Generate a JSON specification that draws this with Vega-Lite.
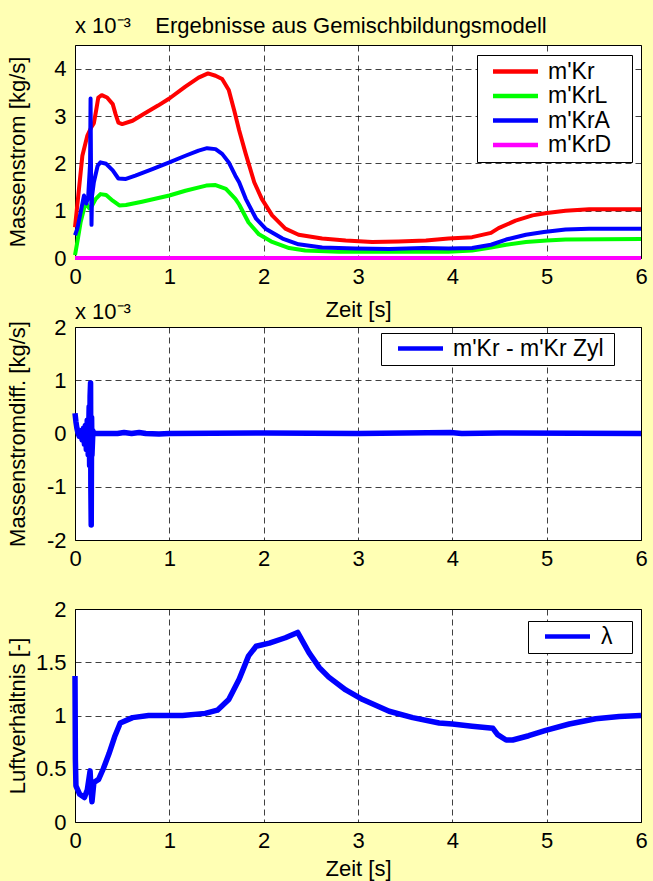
{
  "$schema": "https://vega.github.io/schema/vega-lite/v6.json",
  "background": "#FFFFB4",
  "padding": {"left": 5, "top": 14, "right": 20, "bottom": 10},
  "spacing": 69,
  "bounds": "flush",
  "config": {
    "font": "Liberation Sans",
    "view": {"fill": "white", "stroke": "black", "strokeWidth": 1},
    "axis": {
      "grid": true, "gridColor": "black", "gridDash": [6, 4], "gridOpacity": 0.75, "gridWidth": 1,
      "domain": false, "ticks": false, "tickSize": 0,
      "labelFont": "Liberation Sans", "labelFontSize": 22, "labelColor": "black",
      "labelFlush": false, "labelOverlap": false,
      "titleFont": "Liberation Sans", "titleFontSize": 22, "titleFontWeight": "normal", "titleColor": "black",
      "labelExpr": "'' + datum.value"
    },
    "axisX": {"labelBaseline": "alphabetic", "labelPadding": 25, "titleBaseline": "alphabetic", "titleY": 58},
    "axisY": {"labelPadding": 9, "titleBaseline": "alphabetic", "titleX": -51},
    "legend": {
      "fillColor": "white", "strokeColor": "black", "strokeWidth": 1,
      "labelFont": "Liberation Sans", "labelFontSize": 23, "labelColor": "black",
      "symbolType": "M-5,0H5", "symbolSize": 81, "symbolStrokeWidth": 4.5,
      "titleOrient": "right", "titleOpacity": 0, "titlePadding": 0, "titleFont": "Liberation Sans"
    },
    "title": {"font": "Liberation Sans", "fontSize": 22, "fontWeight": "normal", "color": "black", "anchor": "start", "frame": "group", "baseline": "alphabetic"}
  },
  "resolve": {"scale": {"color": "independent"}, "legend": {"color": "independent"}},
  "datasets": {
    "strom": [
      {"t": 0, "v": 0.65, "s": "m'Kr"}, {"t": 0.035, "v": 1.32, "s": "m'Kr"}, {"t": 0.078, "v": 2.16, "s": "m'Kr"},
      {"t": 0.13, "v": 2.58, "s": "m'Kr"}, {"t": 0.17, "v": 2.75, "s": "m'Kr"}, {"t": 0.2, "v": 2.85, "s": "m'Kr"},
      {"t": 0.226, "v": 3.14, "s": "m'Kr"}, {"t": 0.247, "v": 3.39, "s": "m'Kr"}, {"t": 0.283, "v": 3.44, "s": "m'Kr"},
      {"t": 0.34, "v": 3.39, "s": "m'Kr"}, {"t": 0.4, "v": 3.25, "s": "m'Kr"}, {"t": 0.43, "v": 3.04, "s": "m'Kr"},
      {"t": 0.46, "v": 2.86, "s": "m'Kr"}, {"t": 0.5, "v": 2.83, "s": "m'Kr"}, {"t": 0.61, "v": 2.9, "s": "m'Kr"},
      {"t": 0.75, "v": 3.07, "s": "m'Kr"}, {"t": 0.88, "v": 3.22, "s": "m'Kr"}, {"t": 1.0, "v": 3.37, "s": "m'Kr"},
      {"t": 1.17, "v": 3.62, "s": "m'Kr"}, {"t": 1.31, "v": 3.81, "s": "m'Kr"}, {"t": 1.41, "v": 3.9, "s": "m'Kr"},
      {"t": 1.49, "v": 3.85, "s": "m'Kr"}, {"t": 1.56, "v": 3.78, "s": "m'Kr"}, {"t": 1.63, "v": 3.55, "s": "m'Kr"},
      {"t": 1.69, "v": 3.1, "s": "m'Kr"}, {"t": 1.74, "v": 2.7, "s": "m'Kr"}, {"t": 1.81, "v": 2.2, "s": "m'Kr"},
      {"t": 1.9, "v": 1.6, "s": "m'Kr"}, {"t": 1.98, "v": 1.25, "s": "m'Kr"}, {"t": 2.09, "v": 0.9, "s": "m'Kr"},
      {"t": 2.23, "v": 0.62, "s": "m'Kr"}, {"t": 2.37, "v": 0.49, "s": "m'Kr"}, {"t": 2.62, "v": 0.41, "s": "m'Kr"},
      {"t": 2.87, "v": 0.37, "s": "m'Kr"}, {"t": 3.15, "v": 0.34, "s": "m'Kr"}, {"t": 3.43, "v": 0.35, "s": "m'Kr"},
      {"t": 3.72, "v": 0.37, "s": "m'Kr"}, {"t": 3.96, "v": 0.41, "s": "m'Kr"}, {"t": 4.21, "v": 0.44, "s": "m'Kr"},
      {"t": 4.41, "v": 0.53, "s": "m'Kr"}, {"t": 4.49, "v": 0.63, "s": "m'Kr"}, {"t": 4.67, "v": 0.79, "s": "m'Kr"},
      {"t": 4.85, "v": 0.9, "s": "m'Kr"}, {"t": 5.0, "v": 0.95, "s": "m'Kr"}, {"t": 5.2, "v": 1.0, "s": "m'Kr"},
      {"t": 5.45, "v": 1.03, "s": "m'Kr"}, {"t": 6.0, "v": 1.03, "s": "m'Kr"},

      {"t": 0, "v": 0.06, "s": "m'KrL"}, {"t": 0.025, "v": 0.34, "s": "m'KrL"}, {"t": 0.06, "v": 0.76, "s": "m'KrL"},
      {"t": 0.113, "v": 1.18, "s": "m'KrL"}, {"t": 0.15, "v": 1.05, "s": "m'KrL"}, {"t": 0.18, "v": 1.1, "s": "m'KrL"},
      {"t": 0.22, "v": 1.25, "s": "m'KrL"}, {"t": 0.27, "v": 1.35, "s": "m'KrL"}, {"t": 0.33, "v": 1.33, "s": "m'KrL"},
      {"t": 0.4, "v": 1.21, "s": "m'KrL"}, {"t": 0.47, "v": 1.11, "s": "m'KrL"}, {"t": 0.54, "v": 1.12, "s": "m'KrL"},
      {"t": 0.71, "v": 1.19, "s": "m'KrL"}, {"t": 1.0, "v": 1.32, "s": "m'KrL"}, {"t": 1.17, "v": 1.42, "s": "m'KrL"},
      {"t": 1.39, "v": 1.53, "s": "m'KrL"}, {"t": 1.49, "v": 1.54, "s": "m'KrL"}, {"t": 1.6, "v": 1.46, "s": "m'KrL"},
      {"t": 1.7, "v": 1.25, "s": "m'KrL"}, {"t": 1.74, "v": 1.13, "s": "m'KrL"}, {"t": 1.84, "v": 0.75, "s": "m'KrL"},
      {"t": 1.95, "v": 0.5, "s": "m'KrL"}, {"t": 2.09, "v": 0.34, "s": "m'KrL"}, {"t": 2.27, "v": 0.21, "s": "m'KrL"},
      {"t": 2.44, "v": 0.16, "s": "m'KrL"}, {"t": 2.8, "v": 0.13, "s": "m'KrL"}, {"t": 3.5, "v": 0.13, "s": "m'KrL"},
      {"t": 3.96, "v": 0.13, "s": "m'KrL"}, {"t": 4.21, "v": 0.16, "s": "m'KrL"}, {"t": 4.41, "v": 0.22, "s": "m'KrL"},
      {"t": 4.57, "v": 0.28, "s": "m'KrL"}, {"t": 4.78, "v": 0.34, "s": "m'KrL"}, {"t": 5.0, "v": 0.37, "s": "m'KrL"},
      {"t": 5.2, "v": 0.39, "s": "m'KrL"}, {"t": 6.0, "v": 0.4, "s": "m'KrL"},

      {"t": 0, "v": 0.48, "s": "m'KrA"}, {"t": 0.025, "v": 0.62, "s": "m'KrA"}, {"t": 0.06, "v": 0.97, "s": "m'KrA"},
      {"t": 0.095, "v": 1.32, "s": "m'KrA"}, {"t": 0.12, "v": 1.15, "s": "m'KrA"}, {"t": 0.14, "v": 1.3, "s": "m'KrA"},
      {"t": 0.16, "v": 2.0, "s": "m'KrA"}, {"t": 0.165, "v": 3.37, "s": "m'KrA"}, {"t": 0.17, "v": 1.8, "s": "m'KrA"},
      {"t": 0.175, "v": 0.7, "s": "m'KrA"}, {"t": 0.18, "v": 1.3, "s": "m'KrA"}, {"t": 0.2, "v": 1.6, "s": "m'KrA"},
      {"t": 0.24, "v": 1.95, "s": "m'KrA"}, {"t": 0.27, "v": 2.02, "s": "m'KrA"}, {"t": 0.33, "v": 1.99, "s": "m'KrA"},
      {"t": 0.4, "v": 1.85, "s": "m'KrA"}, {"t": 0.46, "v": 1.68, "s": "m'KrA"}, {"t": 0.54, "v": 1.67, "s": "m'KrA"},
      {"t": 0.64, "v": 1.74, "s": "m'KrA"}, {"t": 0.82, "v": 1.88, "s": "m'KrA"}, {"t": 1.0, "v": 2.02, "s": "m'KrA"},
      {"t": 1.17, "v": 2.16, "s": "m'KrA"}, {"t": 1.31, "v": 2.27, "s": "m'KrA"}, {"t": 1.4, "v": 2.32, "s": "m'KrA"},
      {"t": 1.49, "v": 2.3, "s": "m'KrA"}, {"t": 1.56, "v": 2.2, "s": "m'KrA"}, {"t": 1.63, "v": 2.02, "s": "m'KrA"},
      {"t": 1.7, "v": 1.74, "s": "m'KrA"}, {"t": 1.74, "v": 1.6, "s": "m'KrA"}, {"t": 1.81, "v": 1.25, "s": "m'KrA"},
      {"t": 1.92, "v": 0.83, "s": "m'KrA"}, {"t": 2.02, "v": 0.62, "s": "m'KrA"}, {"t": 2.2, "v": 0.41, "s": "m'KrA"},
      {"t": 2.37, "v": 0.29, "s": "m'KrA"}, {"t": 2.62, "v": 0.22, "s": "m'KrA"}, {"t": 2.97, "v": 0.2, "s": "m'KrA"},
      {"t": 3.33, "v": 0.19, "s": "m'KrA"}, {"t": 3.69, "v": 0.21, "s": "m'KrA"}, {"t": 3.96, "v": 0.2, "s": "m'KrA"},
      {"t": 4.21, "v": 0.21, "s": "m'KrA"}, {"t": 4.41, "v": 0.28, "s": "m'KrA"}, {"t": 4.57, "v": 0.39, "s": "m'KrA"},
      {"t": 4.78, "v": 0.49, "s": "m'KrA"}, {"t": 4.97, "v": 0.55, "s": "m'KrA"}, {"t": 5.2, "v": 0.6, "s": "m'KrA"},
      {"t": 5.45, "v": 0.62, "s": "m'KrA"}, {"t": 6.0, "v": 0.62, "s": "m'KrA"},

      {"t": 0, "v": 0, "s": "m'KrD"}, {"t": 6, "v": 0, "s": "m'KrD"}
    ],
    "diff": [
      {"t": 0, "v": 0.38, "s": "m'Kr - m'Kr Zyl"}, {"t": 0.01, "v": 0.22, "s": "m'Kr - m'Kr Zyl"},
      {"t": 0.02, "v": 0.1, "s": "m'Kr - m'Kr Zyl"}, {"t": 0.03, "v": 0.02, "s": "m'Kr - m'Kr Zyl"},
      {"t": 0.045, "v": -0.05, "s": "m'Kr - m'Kr Zyl"}, {"t": 0.06, "v": 0.05, "s": "m'Kr - m'Kr Zyl"},
      {"t": 0.075, "v": -0.12, "s": "m'Kr - m'Kr Zyl"}, {"t": 0.09, "v": 0.1, "s": "m'Kr - m'Kr Zyl"},
      {"t": 0.1, "v": -0.2, "s": "m'Kr - m'Kr Zyl"}, {"t": 0.11, "v": 0.15, "s": "m'Kr - m'Kr Zyl"},
      {"t": 0.12, "v": -0.3, "s": "m'Kr - m'Kr Zyl"}, {"t": 0.13, "v": 0.25, "s": "m'Kr - m'Kr Zyl"},
      {"t": 0.14, "v": -0.4, "s": "m'Kr - m'Kr Zyl"}, {"t": 0.15, "v": 0.5, "s": "m'Kr - m'Kr Zyl"},
      {"t": 0.155, "v": -0.6, "s": "m'Kr - m'Kr Zyl"}, {"t": 0.16, "v": 0.7, "s": "m'Kr - m'Kr Zyl"},
      {"t": 0.165, "v": 0.95, "s": "m'Kr - m'Kr Zyl"}, {"t": 0.168, "v": -1.0, "s": "m'Kr - m'Kr Zyl"},
      {"t": 0.172, "v": -1.72, "s": "m'Kr - m'Kr Zyl"}, {"t": 0.176, "v": 0.3, "s": "m'Kr - m'Kr Zyl"},
      {"t": 0.18, "v": -0.4, "s": "m'Kr - m'Kr Zyl"}, {"t": 0.19, "v": 0.05, "s": "m'Kr - m'Kr Zyl"},
      {"t": 0.2, "v": 0, "s": "m'Kr - m'Kr Zyl"}, {"t": 0.45, "v": 0, "s": "m'Kr - m'Kr Zyl"},
      {"t": 0.52, "v": 0.02, "s": "m'Kr - m'Kr Zyl"}, {"t": 0.6, "v": 0, "s": "m'Kr - m'Kr Zyl"},
      {"t": 0.68, "v": 0.02, "s": "m'Kr - m'Kr Zyl"}, {"t": 0.75, "v": 0, "s": "m'Kr - m'Kr Zyl"},
      {"t": 0.89, "v": -0.01, "s": "m'Kr - m'Kr Zyl"}, {"t": 1.0, "v": 0, "s": "m'Kr - m'Kr Zyl"},
      {"t": 2.0, "v": 0.01, "s": "m'Kr - m'Kr Zyl"}, {"t": 3.0, "v": 0, "s": "m'Kr - m'Kr Zyl"},
      {"t": 3.98, "v": 0.02, "s": "m'Kr - m'Kr Zyl"}, {"t": 4.1, "v": 0, "s": "m'Kr - m'Kr Zyl"},
      {"t": 4.5, "v": 0.01, "s": "m'Kr - m'Kr Zyl"}, {"t": 6.0, "v": 0, "s": "m'Kr - m'Kr Zyl"}
    ],
    "lambda": [
      {"t": 0, "v": 1.37, "s": "λ"}, {"t": 0.004, "v": 0.59, "s": "λ"}, {"t": 0.01, "v": 0.34, "s": "λ"},
      {"t": 0.05, "v": 0.26, "s": "λ"}, {"t": 0.1, "v": 0.23, "s": "λ"}, {"t": 0.13, "v": 0.3, "s": "λ"},
      {"t": 0.16, "v": 0.48, "s": "λ"}, {"t": 0.17, "v": 0.3, "s": "λ"}, {"t": 0.18, "v": 0.19, "s": "λ"},
      {"t": 0.2, "v": 0.37, "s": "λ"}, {"t": 0.25, "v": 0.4, "s": "λ"}, {"t": 0.3, "v": 0.5, "s": "λ"},
      {"t": 0.36, "v": 0.64, "s": "λ"}, {"t": 0.42, "v": 0.8, "s": "λ"}, {"t": 0.48, "v": 0.93, "s": "λ"},
      {"t": 0.61, "v": 0.98, "s": "λ"}, {"t": 0.78, "v": 1.0, "s": "λ"}, {"t": 1.14, "v": 1.0, "s": "λ"},
      {"t": 1.38, "v": 1.02, "s": "λ"}, {"t": 1.51, "v": 1.05, "s": "λ"}, {"t": 1.63, "v": 1.15, "s": "λ"},
      {"t": 1.74, "v": 1.34, "s": "λ"}, {"t": 1.84, "v": 1.56, "s": "λ"}, {"t": 1.92, "v": 1.65, "s": "λ"},
      {"t": 2.06, "v": 1.68, "s": "λ"}, {"t": 2.23, "v": 1.73, "s": "λ"}, {"t": 2.36, "v": 1.78, "s": "λ"},
      {"t": 2.48, "v": 1.59, "s": "λ"}, {"t": 2.59, "v": 1.45, "s": "λ"}, {"t": 2.69, "v": 1.36, "s": "λ"},
      {"t": 2.87, "v": 1.24, "s": "λ"}, {"t": 3.05, "v": 1.15, "s": "λ"}, {"t": 3.33, "v": 1.04, "s": "λ"},
      {"t": 3.58, "v": 0.98, "s": "λ"}, {"t": 3.86, "v": 0.93, "s": "λ"}, {"t": 4.0, "v": 0.92, "s": "λ"},
      {"t": 4.21, "v": 0.9, "s": "λ"}, {"t": 4.43, "v": 0.88, "s": "λ"}, {"t": 4.48, "v": 0.82, "s": "λ"},
      {"t": 4.57, "v": 0.77, "s": "λ"}, {"t": 4.64, "v": 0.77, "s": "λ"}, {"t": 4.81, "v": 0.81, "s": "λ"},
      {"t": 4.99, "v": 0.86, "s": "λ"}, {"t": 5.24, "v": 0.92, "s": "λ"}, {"t": 5.52, "v": 0.97, "s": "λ"},
      {"t": 5.77, "v": 0.99, "s": "λ"}, {"t": 6.0, "v": 1.0, "s": "λ"}
    ]
  },
  "vconcat": [
    {
      "width": 566, "height": 213,
      "title": {"text": "x 10\u207b\u00b3\u00a0\u00a0\u00a0 Ergebnisse aus Gemischbildungsmodell", "offset": 7},
      "data": {"name": "strom"},
      "mark": {"type": "line", "strokeWidth": 4, "strokeJoin": "round"},
      "encoding": {
        "x": {"field": "t", "type": "quantitative", "scale": {"domain": [0, 6], "nice": false, "zero": false},
              "axis": {"values": [0, 1, 2, 3, 4, 5, 6], "title": "Zeit [s]"}},
        "y": {"field": "v", "type": "quantitative", "scale": {"domain": [0, 4.5], "nice": false},
              "axis": {"values": [0, 1, 2, 3, 4], "title": "Massenstrom [kg/s]"}},
        "color": {"field": "s", "type": "nominal",
                  "scale": {"domain": ["m'Kr", "m'KrL", "m'KrA", "m'KrD"], "range": ["#FF0000", "#00FF00", "#0000FF", "#FF00FF"]},
                  "legend": {"title": "m", "titleFontSize": 17, "orient": "none", "legendX": 402, "legendY": 10, "padding": 5, "rowPadding": 0.5,
                             "symbolOffset": 22, "labelOffset": 21}}
      }
    },
    {
      "width": 566, "height": 213,
      "title": {"text": "x 10\u207b\u00b3", "offset": -8},
      "data": {"name": "diff"},
      "mark": {"type": "line", "strokeWidth": 5.5, "strokeJoin": "round"},
      "encoding": {
        "x": {"field": "t", "type": "quantitative", "scale": {"domain": [0, 6], "nice": false, "zero": false},
              "axis": {"values": [0, 1, 2, 3, 4, 5, 6], "title": null}},
        "y": {"field": "v", "type": "quantitative", "scale": {"domain": [-2, 2], "nice": false},
              "axis": {"values": [-2, -1, 0, 1, 2], "title": "Massenstromdiff. [kg/s]"}},
        "color": {"field": "s", "type": "nominal", "scale": {"range": ["#0000FF"]},
                  "legend": {"title": "m", "titleFontSize": 6, "orient": "none", "legendX": 306, "legendY": 6, "padding": 4,
                             "symbolOffset": 24, "labelOffset": 21}}
      }
    },
    {
      "width": 566, "height": 213,
      "data": {"name": "lambda"},
      "mark": {"type": "line", "strokeWidth": 5.5, "strokeJoin": "round"},
      "encoding": {
        "x": {"field": "t", "type": "quantitative", "scale": {"domain": [0, 6], "nice": false, "zero": false},
              "axis": {"values": [0, 1, 2, 3, 4, 5, 6], "title": "Zeit [s]", "titleY": 53}},
        "y": {"field": "v", "type": "quantitative", "scale": {"domain": [0, 2], "nice": false},
              "axis": {"values": [0, 0.5, 1, 1.5, 2], "title": "Luftverhältnis [-]"}},
        "color": {"field": "s", "type": "nominal", "scale": {"range": ["#0000FF"]},
                  "legend": {"title": "m", "titleFontSize": 16, "orient": "none", "legendX": 453, "legendY": 12, "padding": 4,
                             "symbolOffset": 24, "labelOffset": 22}}
      }
    }
  ]
}
